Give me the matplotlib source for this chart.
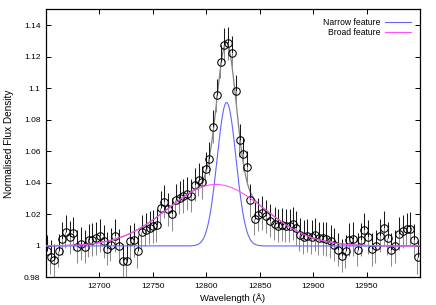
import numpy as np
import matplotlib
matplotlib.use("Agg")
import matplotlib.pyplot as plt
from matplotlib.ticker import FuncFormatter, FixedLocator

plt.rcParams['font.family'] = ['Liberation Sans', 'DejaVu Sans']

# observed spectrum (wavelength in Angstrom, normalised flux)
wavelength = [
    12650.7, 12654.4, 12657.8, 12661.9, 12665.3, 12668.7, 12672.5, 12675.6, 12679.3, 12682.8,
    12686.5, 12690.0, 12693.4, 12697.1, 12700.6, 12704.3, 12707.4, 12710.6, 12714.6, 12718.4,
    12722.4, 12725.6, 12728.7, 12732.4, 12735.9, 12739.6, 12743.4, 12746.9, 12750.5, 12753.7,
    12757.4, 12760.8, 12764.5, 12768.0, 12771.5, 12775.0, 12778.6, 12782.3, 12786.1, 12789.5,
    12793.1, 12796.4, 12799.6, 12802.9, 12806.7, 12809.9, 12813.6, 12816.7, 12820.7, 12824.5,
    12828.1, 12831.5, 12834.6, 12838.5, 12841.3, 12845.4, 12848.5, 12852.5, 12856.3, 12860.0,
    12864.1, 12867.2, 12871.0, 12874.4, 12878.2, 12881.3, 12884.4, 12887.6, 12891.3, 12894.7,
    12898.5, 12902.2, 12905.4, 12909.4, 12912.5, 12916.3, 12919.7, 12923.5, 12927.2, 12930.7,
    12933.8, 12937.5, 12941.6, 12944.8, 12947.8, 12951.6, 12955.4, 12958.8, 12962.6, 12966.4,
    12969.7, 12972.9, 12976.6, 12980.7, 12984.4, 12987.5, 12990.7, 12994.8, 12997.9,
]
flux = [
    0.9965, 0.9930, 0.9910, 0.9970, 1.0045, 1.0090, 1.0055, 1.0080, 0.9995, 1.0015,
    0.9995, 1.0037, 1.0040, 1.0048, 1.0066, 1.0031, 0.9982, 1.0008, 1.0066, 1.0000,
    0.9905, 0.9905, 1.0029, 1.0038, 0.9965, 1.0090, 1.0103, 1.0115, 1.0125, 1.0132,
    1.0241, 1.0281, 1.0232, 1.0200, 1.0290, 1.0305, 1.0317, 1.0331, 1.0319, 1.0389,
    1.0420, 1.0405, 1.0489, 1.0552, 1.0757, 1.0956, 1.1168, 1.1275, 1.1285, 1.1225,
    1.0981, 1.0670, 1.0582, 1.0500, 1.0289, 1.0173, 1.0198, 1.0209, 1.0187, 1.0160,
    1.0141, 1.0128, 1.0135, 1.0128, 1.0128, 1.0141, 1.0114, 1.0071, 1.0057, 1.0065,
    1.0057, 1.0071, 1.0050, 1.0050, 1.0044, 1.0029, 1.0008, 0.9976, 0.9938, 0.9965,
    1.0039, 1.0044, 0.9976, 1.0039, 1.0103, 1.0057, 0.9980, 0.9997, 1.0065, 1.0114,
    1.0050, 0.9976, 0.9997, 1.0077, 1.0092, 1.0107, 1.0109, 1.0035, 0.9930,
]
flux_err = 0.0105

# Gaussian fit parameters
narrow_center, narrow_amp, narrow_sigma = 12819.0, 0.091, 8.9
broad_center, broad_amp, broad_sigma = 12809.0, 0.039, 45.0

xticks = [12700, 12750, 12800, 12850, 12900, 12950]
yticks = [0.98, 1.0, 1.02, 1.04, 1.06, 1.08, 1.10, 1.12, 1.14]

wl = np.array(wavelength[:len(flux)])
fl = np.array(flux[:len(wl)])

grid = np.linspace(12650, 13000, 1500)
narrow = 1 + narrow_amp * np.exp(-0.5 * ((grid - narrow_center) / narrow_sigma) ** 2)
broad = 1 + broad_amp * np.exp(-0.5 * ((grid - broad_center) / broad_sigma) ** 2)
total = narrow + broad - 1

fig = plt.figure(figsize=(4.36, 3.05), dpi=100)
ax = fig.add_axes([0.1055, 0.0902, 0.8578, 0.8787])

ax.plot(grid, total, color='#808080', lw=0.9, zorder=1)
ax.errorbar(wl, fl, yerr=[np.zeros_like(fl), np.full_like(fl, flux_err)],
            fmt='none', ecolor='#1a1a1a', elinewidth=0.75, capsize=0, zorder=2)
ax.errorbar(wl - 0.45, fl, yerr=[np.full_like(fl, flux_err), np.zeros_like(fl)],
            fmt='none', ecolor='#8c8c8c', elinewidth=0.75, capsize=0, zorder=2)
ax.plot(wl, fl, 'o', mfc='none', mec='black', ms=5.4, mew=0.75, zorder=3)

ax.plot(grid, narrow, color='#6464ff', lw=0.8, zorder=4, label='Narrow feature')
ax.plot(grid, broad, color='#ff55ff', lw=0.8, zorder=5, label='Broad feature')

ax.set_xlim(12650, 13000)
ax.set_ylim(0.98, 1.15)
ax.xaxis.set_major_locator(FixedLocator(xticks))
ax.yaxis.set_major_locator(FixedLocator(yticks))
ax.yaxis.set_major_formatter(FuncFormatter(lambda v, p: '%g' % round(v, 4)))
ax.xaxis.set_major_formatter(FuncFormatter(lambda v, p: '%d' % v))
ax.tick_params(direction='in', length=3.5, width=0.7, top=True, right=True,
               labelsize=6, pad=4, colors='black')
for s in ax.spines.values():
    s.set_linewidth(0.9)

ax.set_xlabel('Wavelength (Å)', fontsize=6.8, labelpad=2)
ax.set_ylabel('Normalised Flux Density', fontsize=7.2, labelpad=7)

leg = ax.legend(loc='upper right', frameon=False, fontsize=6.2, markerfirst=False,
                handlelength=3.1, handletextpad=0.45, borderaxespad=0.8,
                labelspacing=0.1, borderpad=0.2)
for t in leg.get_texts():
    t.set_ha('right')

fig.savefig('out.png', dpi=100)
